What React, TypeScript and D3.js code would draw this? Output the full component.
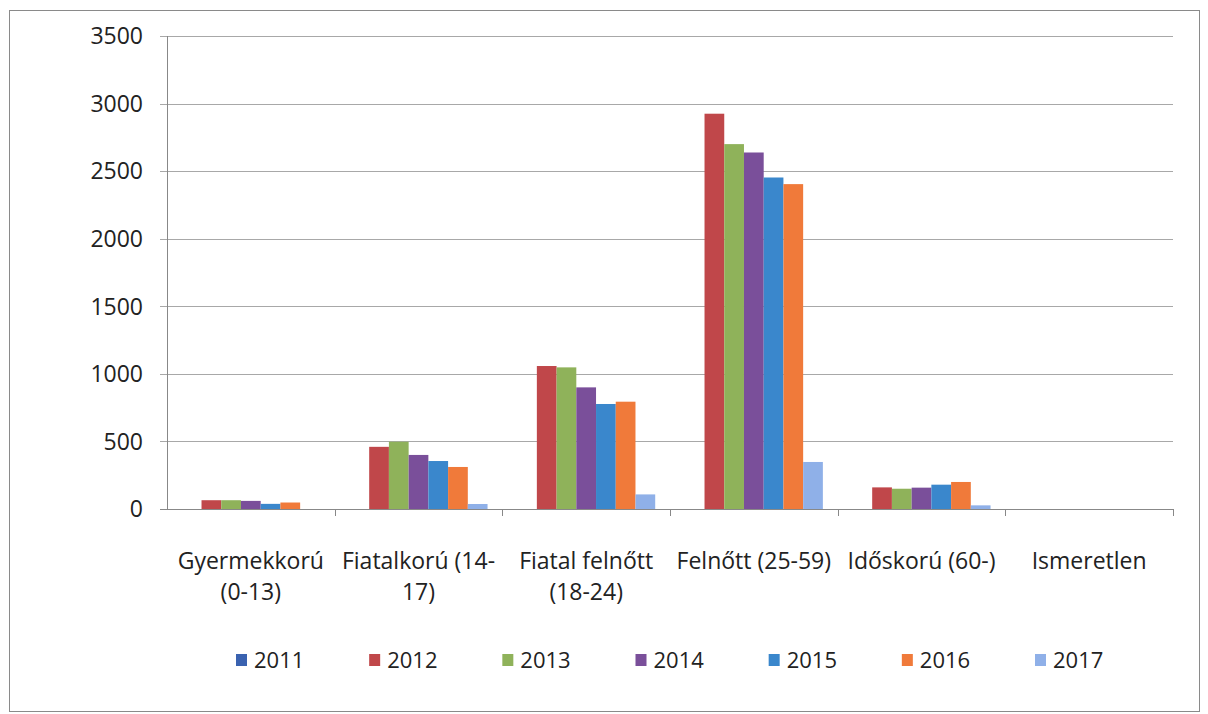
import * as d3 from 'd3';
import React, { useEffect, useRef } from 'react';

const categories = [
  'Gyermekkorú (0-13)',
  'Fiatalkorú (14-17)',
  'Fiatal felnőtt (18-24)',
  'Felnőtt (25-59)',
  'Időskorú (60-)',
  'Ismeretlen',
];
const categoryLines = [
  ['Gyermekkorú', '(0-13)'],
  ['Fiatalkorú (14-', '17)'],
  ['Fiatal felnőtt', '(18-24)'],
  ['Felnőtt (25-59)'],
  ['Időskorú (60-)'],
  ['Ismeretlen'],
];
const years = ['2011', '2012', '2013', '2014', '2015', '2016', '2017'];
const colors = ['#3a62b0', '#c0474a', '#8fb25a', '#7a4f9a', '#3a87cc', '#f07a3a', '#8fb0e8'];

const v2011 = [0, 0, 0, 0, 0, 0];
const v2012 = [65, 460, 1058, 2925, 160, 0];
const v2013 = [65, 498, 1048, 2700, 150, 0];
const v2014 = [60, 400, 900, 2638, 158, 0];
const v2015 = [38, 355, 777, 2453, 180, 0];
const v2016 = [48, 311, 794, 2404, 200, 0];
const v2017 = [0, 37, 108, 348, 27, 0];
const series = [v2011, v2012, v2013, v2014, v2015, v2016, v2017];

const yTicks = [0, 500, 1000, 1500, 2000, 2500, 3000, 3500];

export default function App() {
  const svgRef = useRef<SVGSVGElement>(null);

  useEffect(() => {
    document.body.style.margin = '0';
    const w = 1208;
    const h = 714;
    const left = 167;
    const right = 1173;
    const top = 36;
    const bottom = 509;
    const font = '"Open Sans", sans-serif';

    const svg = d3.select(svgRef.current).attr('width', w).attr('height', h);
    svg.selectAll('*').remove();

    svg
      .append('rect')
      .attr('x', 9.5)
      .attr('y', 10.5)
      .attr('width', 1190)
      .attr('height', 701)
      .attr('fill', 'white')
      .attr('stroke', '#8a8a8a');

    const x0 = d3.scaleBand().domain(categories).range([left, right]).paddingInner(0).paddingOuter(0);
    const x1 = d3
      .scaleBand()
      .domain(years)
      .range([x0.bandwidth() * (0.75 / 8.5), x0.bandwidth() * (7.75 / 8.5)]);
    const y = d3.scaleLinear().domain([0, 3500]).range([bottom, top]);

    // grid
    svg
      .selectAll('.grid')
      .data(yTicks)
      .join('line')
      .attr('x1', left - 7)
      .attr('x2', right)
      .attr('y1', (d) => Math.round(y(d)) + 0.5)
      .attr('y2', (d) => Math.round(y(d)) + 0.5)
      .attr('stroke', (d) => (d === 0 ? '#888' : '#a8a8a8'))
      .attr('stroke-width', 1);

    svg
      .append('line')
      .attr('x1', left + 0.5)
      .attr('x2', left + 0.5)
      .attr('y1', top)
      .attr('y2', bottom)
      .attr('stroke', '#888');

    svg
      .selectAll('.ytl')
      .data(yTicks)
      .join('text')
      .attr('x', 143)
      .attr('y', (d) => y(d))
      .attr('dy', '0.36em')
      .attr('text-anchor', 'end')
      .attr('font-family', font)
      .attr('font-size', 23)
      .attr('fill', '#222')
      .text((d) => String(d));

    // category ticks
    const bounds = categories.map((c) => (x0(c) as number) + x0.bandwidth());
    svg
      .selectAll('.xt')
      .data(bounds)
      .join('line')
      .attr('x1', (d) => Math.round(d) + 0.5)
      .attr('x2', (d) => Math.round(d) + 0.5)
      .attr('y1', bottom)
      .attr('y2', bottom + 7)
      .attr('stroke', '#888');

    // bars
    const groups = svg
      .selectAll('.g')
      .data(categories)
      .join('g')
      .attr('transform', (c) => `translate(${x0(c)},0)`);
    groups
      .selectAll('rect')
      .data((c, i) => years.map((yr, k) => ({ yr, k, v: series[k][i] })))
      .join('rect')
      .attr('x', (d) => x1(d.yr) as number)
      .attr('width', x1.bandwidth())
      .attr('y', (d) => y(d.v))
      .attr('height', (d) => bottom - y(d.v))
      .attr('fill', (d) => colors[d.k]);

    // category labels
    categories.forEach((c, i) => {
      const cx = (x0(c) as number) + x0.bandwidth() / 2;
      categoryLines[i].forEach((line, j) => {
        svg
          .append('text')
          .attr('x', cx)
          .attr('y', 569 + j * 31)
          .attr('text-anchor', 'middle')
          .attr('font-family', font)
          .attr('font-size', 23)
          .attr('fill', '#222')
          .text(line);
      });
    });

    // legend
    const lx = d3.scaleLinear().domain([0, years.length - 1]).range([236, 1035]);
    const leg = svg
      .selectAll('.leg')
      .data(years)
      .join('g')
      .attr('transform', (d, i) => `translate(${lx(i)},660)`);
    leg
      .append('rect')
      .attr('x', 0)
      .attr('y', -6)
      .attr('width', 11)
      .attr('height', 12)
      .attr('fill', (d, i) => colors[i]);
    leg
      .append('text')
      .attr('x', 18)
      .attr('y', 0)
      .attr('dy', '0.36em')
      .attr('font-family', font)
      .attr('font-size', 22)
      .attr('fill', '#222')
      .text((d) => d);
  }, []);

  return (
    <div>
      <svg ref={svgRef} style={{ display: 'block' }} />
    </div>
  );
}
